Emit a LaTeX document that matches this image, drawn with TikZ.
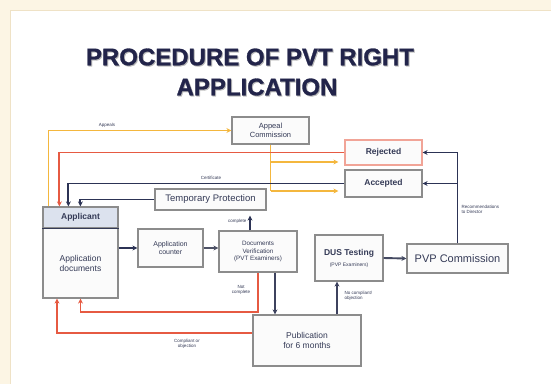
\documentclass[tikz,border=0pt]{standalone}
\usepackage{fontspec}
\setmainfont{Liberation Sans}
\newfontfamily\titlefont[FakeBold=1.2]{Liberation Sans Bold}
\usetikzlibrary{arrows.meta,calc}
\definecolor{cream}{HTML}{FCF5E4}
\definecolor{creamline}{HTML}{EFE2C6}
\definecolor{yel}{HTML}{F4B73E}
\definecolor{redl}{HTML}{E65A42}
\definecolor{navy}{HTML}{2C3355}
\definecolor{boxline}{HTML}{8C8C8C}
\definecolor{txt}{HTML}{343A56}
\definecolor{headfill}{HTML}{DCE2EE}
\definecolor{titlec}{HTML}{22244A}
\tikzset{
  box/.style={draw=boxline, line width=1.2pt, fill=white!97!gray, text=txt, align=center, inner sep=1pt},
  conn/.style={line width=1.9pt, -{Stealth[length=5pt,width=5pt]}},
  plain/.style={line width=1.9pt},
  lbl/.style={font=\fontsize{4.5}{5}\selectfont, text=txt, inner sep=0.5pt},
  ttl/.style={font=\titlefont\fontsize{24}{26}\selectfont},
}
\begin{document}
\begin{tikzpicture}[x=1pt,y=-1pt]
\useasboundingbox (0,0) rectangle (551,384);
\fill[cream] (0,0) rectangle (551,384);
\fill[white] (10,10) rectangle (551,384);
\draw[creamline, line width=0.8pt] (10,384) -- (10,10) -- (551,10);
% title
\node[ttl, text=gray!55] (t1s) at (251,58) {PROCEDURE OF PVT RIGHT};
\node[ttl, text=titlec] (t1) at (250,57) {PROCEDURE OF PVT RIGHT};
\node[ttl, text=gray!55] (t2s) at (258,88) {APPLICATION};
\node[ttl, text=titlec] (t2) at (257,87) {APPLICATION};
% boxes
\node[box, minimum width=77pt, minimum height=27pt, font=\fontsize{7.5}{8.5}\selectfont] (appeal) at (270.5,130.5) {Appeal\\Commission};
\node[box, draw=redl!55, minimum width=77pt, minimum height=25pt, font=\bfseries\fontsize{8.5}{9}\selectfont] (rej) at (383.5,152.5) {Rejected};
\node[box, minimum width=77pt, minimum height=27pt, font=\bfseries\fontsize{8.5}{9}\selectfont] (acc) at (383.5,183.5) {Accepted};
\node[box, minimum width=111pt, minimum height=21pt, font=\fontsize{9.5}{10}\selectfont] (temp) at (210.5,199.5) {Temporary Protection};
\node[box, minimum width=75pt, minimum height=70pt, font=\fontsize{8.5}{10}\selectfont] (appdoc) at (80.5,263) {Application\\documents};
\node[box, fill=headfill, minimum width=75pt, minimum height=21pt, font=\bfseries\fontsize{8.5}{9}\selectfont] (app) at (80.5,217.5) {Applicant};
\draw[txt, line width=1pt] (app.south west) -- (app.south east);
\node[box, minimum width=65pt, minimum height=38pt, font=\fontsize{7}{8.5}\selectfont] (counter) at (170.5,248) {Application\\counter};
\node[box, minimum width=78pt, minimum height=41pt, font=\fontsize{6.3}{7.8}\selectfont] (docver) at (258,251.5) {Documents\\Verification\\(PVT Examiners)};
\node[box, minimum width=68pt, minimum height=46pt] (dus) at (349,258) {{\bfseries\fontsize{8.5}{10}\selectfont DUS Testing}\\[-1pt]{\fontsize{5}{6}\selectfont (PVP Examiners)}};
\node[box, minimum width=101pt, minimum height=29pt, font=\fontsize{11}{12}\selectfont] (pvp) at (457.5,258.5) {PVP Commission};
\node[box, minimum width=108pt, minimum height=51pt, font=\fontsize{8.5}{10.5}\selectfont] (pub) at (307,340.5) {Publication\\for 6 months};
% connectors
\draw[conn, yel, line width=1.5pt] ([xshift=6pt]app.north west) |- (appeal.west);
\node[lbl] (lap) at (107,125) {Appeals};
\draw[plain, yel, line width=1.5pt] (appeal.south) -- ([yshift=-7.5pt]appeal.south |- acc.west);
\draw[conn, yel, line width=1.5pt, shorten >=6pt] ([yshift=-9.5pt]appeal.south |- rej.west) -- ([yshift=-9.5pt]rej.west);
\draw[conn, yel, line width=1.5pt, shorten >=6pt] ([yshift=-7.5pt]appeal.south |- acc.west) -- ([yshift=-7.5pt]acc.west);
\draw[conn, redl] (rej.west) -| ([xshift=17pt]app.north west);
\draw[conn, navy] (acc.west) -| ([xshift=26pt]app.north west);
\node[lbl] (lcert) at (211,178) {Certificate};
\draw[conn, navy] (temp.west) -| ([xshift=38pt]app.north west);
\draw[conn, navy] (appdoc.east |- counter.west) -- (counter.west);
\draw[conn, navy!60!gray] (counter.east) -- (docver.west |- counter.east);
\draw[conn, navy, shorten >=5pt] ([xshift=-8pt]docver.north) -- ([xshift=-8pt]docver.north |- temp.south);
\node[lbl, anchor=east] (lcomp) at (247,221) {complete};
\draw[conn, redl] (docver.south) -- ++(0,39) coordinate (rc) -| (appdoc.south);
\node[lbl, align=center] (lnc) at (241,290) {Not\\complete};
\draw[conn, navy!80!gray] ([xshift=17pt]docver.south) -- ([xshift=17pt]docver.south |- pub.north);
\draw[conn, redl] ([yshift=7.5pt]pub.west) -| ([xshift=-23.5pt]appdoc.south);
\node[lbl, align=center] (lco) at (187,344) {Compliant or\\objection};
\draw[conn, navy!80!gray] ([xshift=30pt]pub.north) -- ([xshift=30pt]pub.north |- dus.south);
\node[lbl, align=left, anchor=west] (lno) at (344,296) {No compliant/\\objection};
\draw[conn, navy!70!gray] (dus.east) -- (pvp.west);
\draw[conn, navy] (pvp.north) -- (pvp.north |- rej.east) -- (rej.east);
\draw[conn, navy] (pvp.north |- acc.east) -- (acc.east);
\node[lbl, align=left, anchor=west] (lrec) at (461,209) {Recommendations\\to Director};
\end{tikzpicture}
\end{document}
